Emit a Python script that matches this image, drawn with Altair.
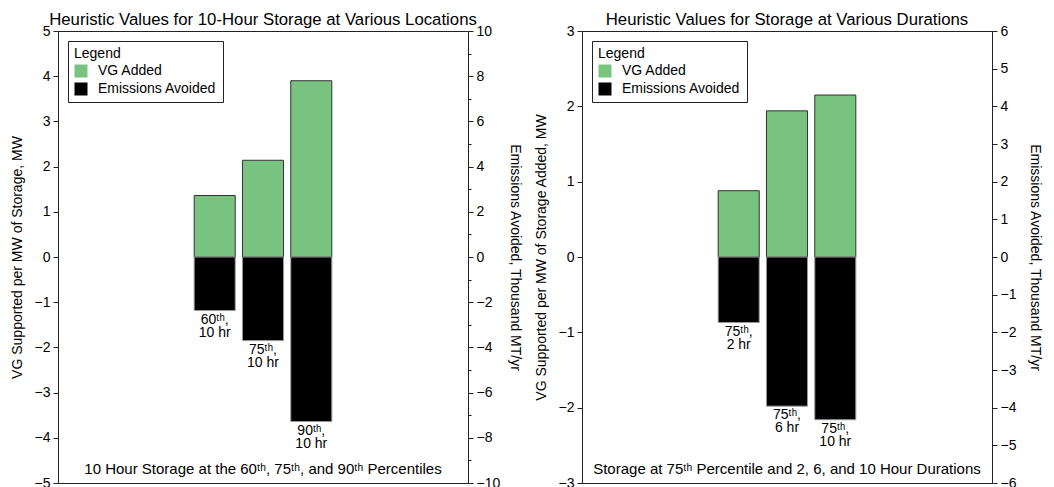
import altair as alt
import pandas as pd

GREEN = "#77C37F"
FONT = "Liberation Sans"

# ---- data ----
left_cats = ["60ᵗʰ,\n10 hr", "75ᵗʰ,\n10 hr", "90ᵗʰ,\n10 hr"]
left_vg = [1.36, 2.14, 3.90]
left_em = [-2.37, -3.70, -7.28]

right_cats = ["75ᵗʰ,\n2 hr", "75ᵗʰ,\n6 hr", "75ᵗʰ,\n10 hr"]
right_vg = [0.88, 1.94, 2.15]
right_em = [-1.74, -3.96, -4.32]

left_title = "Heuristic Values for 10-Hour Storage at Various Locations"
right_title = "Heuristic Values for Storage at Various Durations"
left_note = "10 Hour Storage at the 60ᵗʰ, 75ᵗʰ, and 90ᵗʰ Percentiles"
right_note = "Storage at 75ᵗʰ Percentile and 2, 6, and 10 Hour Durations"
left_ytitle = "VG Supported per MW of Storage, MW"
right_ytitle = "VG Supported per MW of Storage Added, MW"
em_title = "Emissions Avoided, Thousand MT/yr"

W, H = 410, 452


def ticks(lo, hi, step):
    n = int(round((hi - lo) / step))
    return [lo + step * i for i in range(n + 1)]


def panel(cats, vg, em, title, note, ytitle, vg_dom, em_dom, em_step, em_label_mod, em_tpad):
    df = pd.DataFrame({"cat": cats, "vg": vg, "em": em})
    dom = ["_a", "_b"] + cats + ["_c", "_d"]
    x = alt.X("cat:N", axis=None,
              scale=alt.Scale(domain=dom, paddingInner=0.15, paddingOuter=0.82))
    cscale = alt.Scale(domain=["VG Added", "Emissions Avoided"], range=[GREEN, "#000000"])
    legend = alt.Legend(orient="none", legendX=10, legendY=10, title="Legend",
                        titleFontWeight="normal", titleFontSize=14, titleFont=FONT,
                        labelFontSize=14, labelFont=FONT, symbolType="square",
                        symbolSize=169, symbolStrokeWidth=0, padding=6,
                        strokeColor="#222", fillColor="white", rowPadding=4,
                        titlePadding=3, labelOffset=10)
    base = alt.Chart(df)
    vg_layer = base.transform_calculate(series="'VG Added'").mark_bar(
        stroke="#333", strokeWidth=1).encode(
        x=x,
        y=alt.Y("vg:Q", title=ytitle,
                scale=alt.Scale(domain=vg_dom, nice=False),
                axis=alt.Axis(orient="left", values=ticks(vg_dom[0], vg_dom[1], 0.5),
                              format="d", titlePadding=10,
                              labelExpr="datum.value % 1 === 0 ? datum.label : ''",
                              tickSize={"condition": {"test": "datum.value % 1 === 0", "value": 5}, "value": 3})),
        color=alt.Color("series:N", scale=cscale, legend=legend),
    )
    em_layer = base.transform_calculate(series="'Emissions Avoided'").mark_bar(
        stroke="#999", strokeWidth=1).encode(
        x=x,
        y=alt.Y("em:Q", title=em_title,
                scale=alt.Scale(domain=em_dom, nice=False),
                axis=alt.Axis(orient="right", values=ticks(em_dom[0], em_dom[1], em_step),
                              format="d", titlePadding=em_tpad,
                              labelExpr=f"datum.value % {em_label_mod} === 0 ? datum.label : ''",
                              tickSize={"condition": {"test": f"datum.value % {em_label_mod} === 0", "value": 5}, "value": 3})),
        color=alt.Color("series:N", scale=cscale, legend=legend),
    )
    lab_layer = base.mark_text(baseline="top", dy=2, fontSize=14, font=FONT,
                               lineBreak="\n", lineHeight=13, color="black").encode(
        x=x,
        y=alt.Y("em:Q", scale=alt.Scale(domain=em_dom, nice=False), axis=None),
        text="cat:N",
    )
    note_layer = alt.Chart(pd.DataFrame({"t": [note]})).mark_text(
        fontSize=15, font=FONT, baseline="middle", color="black").encode(
        x=alt.value(W / 2), y=alt.value(438), text="t:N")
    return alt.layer(vg_layer, em_layer, lab_layer, note_layer).resolve_scale(
        y="independent").properties(
        width=W, height=H,
        title=alt.TitleParams(title, fontSize=16.75, fontWeight="normal", font=FONT,
                              anchor="middle", frame="group", offset=-5, color="black"))


left = panel(left_cats, left_vg, left_em, left_title, left_note, left_ytitle,
             [-5, 5], [-10, 10], 1, 2, 8)
right = panel(right_cats, right_vg, right_em, right_title, right_note, right_ytitle,
              [-3, 3], [-6, 6], 0.5, 1, 12)

chart = alt.hconcat(left, right, spacing=10).resolve_scale(
    x="independent", y="independent", color="independent").resolve_legend(
    color="independent").properties(
    padding={"left": 1, "top": 3, "right": 0, "bottom": 0}
).configure_view(stroke="#222", strokeWidth=1).configure_axis(
    grid=False, domainColor="#222", tickColor="#222", labelColor="black",
    titleColor="black", labelFontSize=14, titleFontSize=14, titleFontWeight="normal",
    labelFont=FONT, titleFont=FONT, labelPadding=3, titlePadding=8
)

chart.save("out.html", embed_options={"renderer": "svg", "actions": False})
